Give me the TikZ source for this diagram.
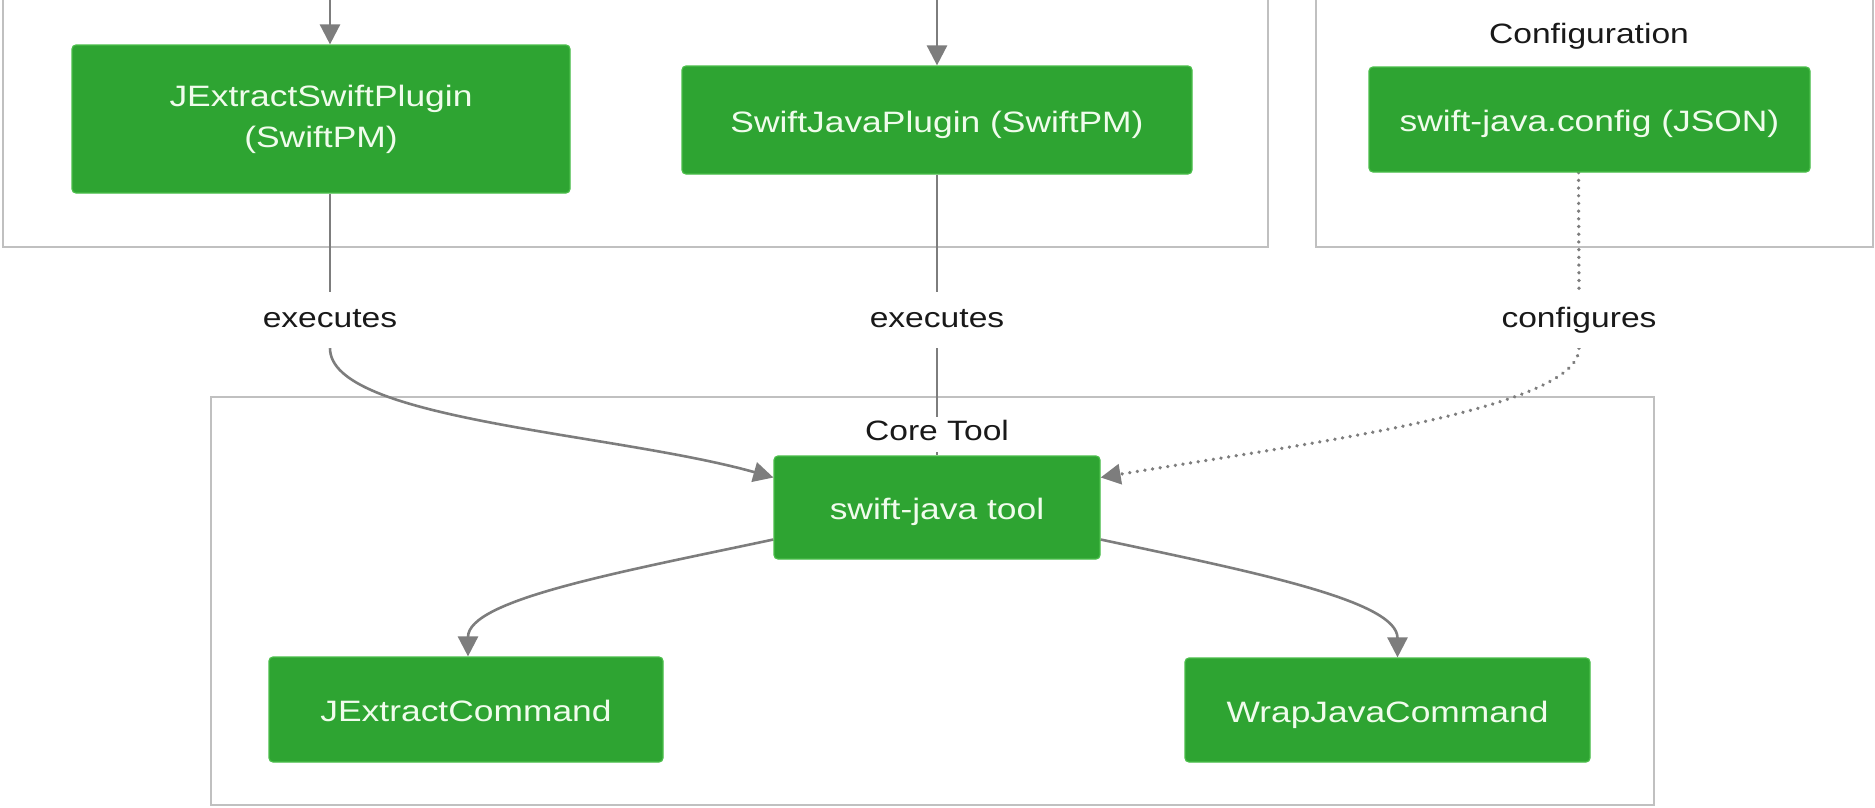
\documentclass[tikz,border=0pt]{standalone}
\usepackage{fontspec}
\setmainfont{Liberation Sans}[FakeStretch=1.2]
\usetikzlibrary{arrows.meta,calc}

\definecolor{boxgreen}{RGB}{46,164,50}
\definecolor{boxedge}{RGB}{74,190,74}
\definecolor{boxtext}{RGB}{240,252,236}
\definecolor{framegray}{RGB}{192,192,192}
\definecolor{linkgray}{RGB}{125,125,125}
\definecolor{labelink}{RGB}{25,25,25}

\pgfdeclarelayer{frames}
\pgfdeclarelayer{links}
\pgfsetlayers{frames,links,main}

\begin{document}
\begin{tikzpicture}[x=1pt,y=-1pt,
  greenbox/.style={draw=boxedge, line width=1.2pt, fill=boxgreen, rounded corners=4pt,
    text=boxtext, font=\fontsize{29.5}{41}\selectfont, align=center, inner sep=0pt},
  oneline/.style={text height=27pt, text depth=3pt},
  cluster/.style={draw=framegray, line width=2pt, inner sep=0pt},
  edgelabel/.style={fill=white, text=labelink, font=\fontsize{28}{34}\selectfont,
    text height=20pt, text depth=6pt, inner xsep=6pt, inner ysep=0pt, minimum height=56pt},
  grouptitle/.style={text=labelink, font=\fontsize{28}{34}\selectfont,
    text height=20pt, text depth=9pt, inner xsep=6pt, inner ysep=3pt},
  link/.style={draw=linkgray, line width=2.6pt},
  cfglink/.style={draw=linkgray, line width=3.6pt, line cap=round, dash pattern=on 0.1pt off 7.6pt},
  tip/.style={-{Triangle[length=20pt,width=20pt]}},
]
\useasboundingbox (0,0) rectangle (1875,807);

% group frames
\begin{pgfonlayer}{frames}
  \fill[white] (0,0) rectangle (1875,807);
  \node[cluster, minimum width=1265pt, minimum height=257pt] (plugins) at (635.5,118.5) {};
  \node[cluster, minimum width=557pt, minimum height=257pt] (config) at (1594.5,118.5) {};
  \node[cluster, minimum width=1443pt, minimum height=408pt] (core) at (932.5,601) {};
\end{pgfonlayer}

% plugin and configuration boxes
\node[greenbox, minimum width=498pt, minimum height=148pt] (jesp) at (321,119)
  {JExtractSwiftPlugin\\(SwiftPM)};
\node[greenbox, oneline, minimum width=510pt, minimum height=108pt] (sjp) at (937,120)
  {SwiftJavaPlugin (SwiftPM)};
\node[grouptitle] (cfgtitle) at (1589,38) {Configuration};
\node[greenbox, oneline, minimum width=441pt, minimum height=105pt] (cfg) at (1589.5,119.5)
  {swift-java.config (JSON)};

% core tool group
\node[grouptitle, fill=white] (coretitle) at (937,434.5) {Core Tool};
\node[greenbox, oneline, minimum width=326pt, minimum height=103pt] (tool) at (937,507.5)
  {swift-java tool};
\node[greenbox, oneline, minimum width=394pt, minimum height=105pt] (jec) at (466,709.5)
  {JExtractCommand};
\node[greenbox, oneline, minimum width=405pt, minimum height=104pt] (wjc) at (1387.5,710)
  {WrapJavaCommand};

% edge labels
\node[edgelabel] (ex1) at (330,320) {executes};
\node[edgelabel] (ex2) at (937,320) {executes};
\node[edgelabel] (cf) at (1579,320) {configures};

% incoming connectors from above
\coordinate (in1) at (330,-5);
\coordinate (in2) at (937,-5);

\begin{pgfonlayer}{links}
  \draw[link,tip] (in1) -- ([xshift=9pt]jesp.north);
  \draw[link,tip] (in2) -- (sjp.north);

  % plugins execute the tool
  \draw[link] ([xshift=9pt]jesp.south) -- (ex1.north);
  \draw[link,tip] (ex1.south) .. controls +(0,72) and +(-160,-45) .. ([yshift=30pt]tool.west);
  \draw[link] (sjp.south) -- (ex2.north);
  \draw[link] (ex2.south) -- (tool.north);

  % configuration
  \draw[cfglink] ([xshift=-11pt]cfg.south) -- (cf.north);
  \draw[cfglink,tip] (cf.south) .. controls +(0,62) and +(198,-33) .. ([yshift=30pt]tool.east);

  % subcommands
  \draw[link,tip] ([yshift=-32pt]tool.west) .. controls +(-150,32) and +(0,-57) .. ([xshift=2pt]jec.north);
  \draw[link,tip] ([yshift=-32pt]tool.east) .. controls +(150,32) and +(0,-57) .. ([xshift=10pt]wjc.north);
\end{pgfonlayer}
\end{tikzpicture}
\end{document}
